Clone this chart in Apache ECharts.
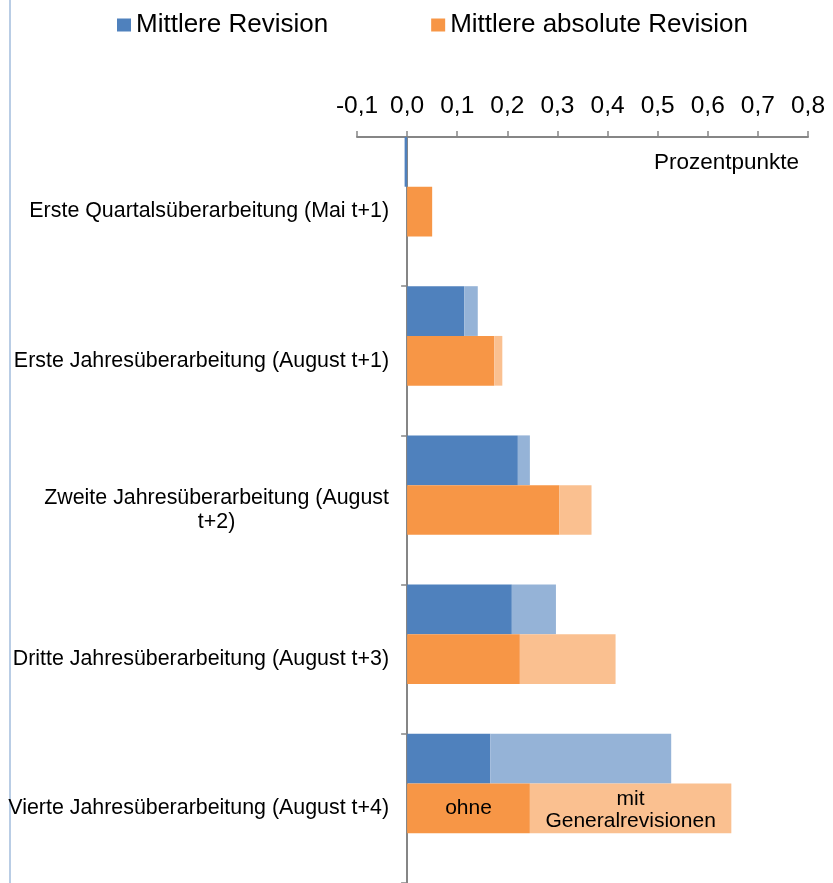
<!DOCTYPE html>
<html><head><meta charset="utf-8">
<script src="https://cdn.jsdelivr.net/npm/echarts@6/dist/echarts.min.js"></script>
<style>html,body{margin:0;padding:0;background:#fff}#c{width:833px;height:883px}</style>
</head><body><div id="c"></div>
<script>
// ---- data ----
const categories = [
  'Erste Quartalsüberarbeitung (Mai t+1)',
  'Erste Jahresüberarbeitung (August t+1)',
  'Zweite Jahresüberarbeitung (August t+2)',
  'Dritte Jahresüberarbeitung (August t+3)',
  'Vierte Jahresüberarbeitung (August t+4)'
];
const categoryLabels = [
  'Erste Quartalsüberarbeitung (Mai t+1)',
  'Erste Jahresüberarbeitung (August t+1)',
  'Zweite Jahresüberarbeitung (August\nt+2)',
  'Dritte Jahresüberarbeitung (August t+3)',
  'Vierte Jahresüberarbeitung (August t+4)'
];
// Mittlere Revision: ohne / mit Generalrevisionen
const revOhne = [-0.005, 0.114, 0.221, 0.209, 0.166];
const revMit  = [-0.005, 0.141, 0.245, 0.297, 0.527];
// Mittlere absolute Revision: ohne / mit Generalrevisionen
const absOhne = [0.050, 0.174, 0.304, 0.225, 0.245];
const absMit  = [0.050, 0.190, 0.368, 0.416, 0.647];
const xMin = -0.1, xMax = 0.8, xStep = 0.1;
const axisName = 'Prozentpunkte';
const legendNames = ['Mittlere Revision', 'Mittlere absolute Revision'];
const annotOhne = 'ohne';
const annotMit = 'mit\nGeneralrevisionen';
const annotIndex = 4;

// ---- chart ----
const FONT = 'Liberation Sans, Arial, sans-serif';
const revDiff = revMit.map((v, i) => +(v - revOhne[i]).toFixed(4));
const absDiff = absMit.map((v, i) => +(v - absOhne[i]).toFixed(4));

const chart = echarts.init(document.getElementById('c'), null, {renderer: 'canvas'});
const inBarLabel = (txt, dy) => ({
  show: true, position: 'inside', color: '#000', fontSize: 21, fontFamily: FONT, lineHeight: 22,
  offset: [0, dy],
  formatter: (p) => p.dataIndex === annotIndex ? txt : ''
});
chart.setOption({
  animation: false,
  backgroundColor: '#fff',
  textStyle: {fontFamily: FONT},
  legend: {
    data: legendNames,
    left: 112, top: 7,
    icon: 'rect', itemWidth: 14, itemHeight: 13, itemGap: 103,
    textStyle: {fontSize: 26, color: '#000', fontFamily: FONT}
  },
  title: {
    text: axisName, right: 29, top: 146,
    textStyle: {fontSize: 22.5, fontWeight: 'normal', color: '#000', fontFamily: FONT}
  },
  graphic: [{
    type: 'line', shape: {x1: 10, y1: 0, x2: 10, y2: 883},
    style: {stroke: '#B9CDE5', lineWidth: 2}, silent: true
  }],
  grid: {left: 357, right: 25, top: 137, bottom: 0, containLabel: false, outerBoundsMode: 'none'},
  xAxis: {
    type: 'value', position: 'top', min: xMin, max: xMax, interval: xStep,
    axisLine: {show: true, lineStyle: {color: '#868686', width: 2}},
    axisTick: {show: true, length: 6, lineStyle: {color: '#868686', width: 1.5}},
    splitLine: {show: false},
    axisLabel: {
      fontSize: 24.5, color: '#000', margin: 18, fontFamily: FONT,
      formatter: (v) => v.toFixed(1).replace('.', ',')
    }
  },
  yAxis: {
    type: 'category', data: categories, inverse: true,
    axisLine: {show: true, onZero: true, lineStyle: {color: '#868686', width: 2}},
    axisTick: {show: true, length: 6, lineStyle: {color: '#868686', width: 1.5}},
    axisLabel: {
      fontSize: 21.4, color: '#000', margin: -32, fontFamily: FONT, lineHeight: 24,
      formatter: (v, i) => {
        const lines = categoryLabels[i].split('\n');
        return lines.length > 1 ? lines.map(l => '{c|' + l + '}').join('\n') : lines[0];
      },
      rich: {c: {align: 'center', fontSize: 21.4, color: '#000', fontFamily: FONT, lineHeight: 24}}
    }
  },
  series: [
    {name: legendNames[0], type: 'bar', stack: 'rev', data: revOhne,
     itemStyle: {color: '#4F81BD'}, barGap: '0%', barCategoryGap: '0%'},
    {name: legendNames[0] + ' (mit Generalrevisionen)', type: 'bar', stack: 'rev', data: revDiff,
     itemStyle: {color: '#95B3D7'}},
    {name: legendNames[1], type: 'bar', stack: 'abs', data: absOhne,
     itemStyle: {color: '#F79646'}, label: inBarLabel(annotOhne, 0)},
    {name: legendNames[1] + ' (mit Generalrevisionen)', type: 'bar', stack: 'abs', data: absDiff,
     itemStyle: {color: '#FAC090'}, label: inBarLabel(annotMit, 2)},
    {name: 'Abstand', type: 'bar', stack: 'gap', data: [], barGap: '0%', barCategoryGap: '0%'}
  ]
});
</script></body></html>
